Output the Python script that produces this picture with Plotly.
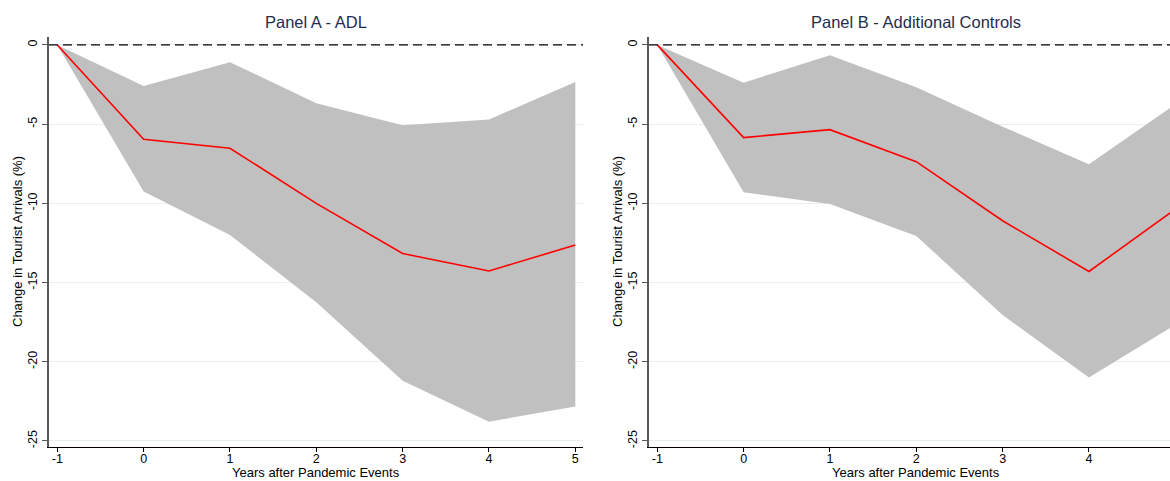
import plotly.graph_objects as go

years = [-1, 0, 1, 2, 3, 4, 5]

# Panel A - ADL
a_point = [0, -5.95, -6.52, -10.0, -13.17, -14.27, -12.63]
a_upper = [0, -2.59, -1.09, -3.68, -5.07, -4.70, -2.34]
a_lower = [0, -9.26, -12.0, -16.25, -21.2, -23.78, -22.83]

# Panel B - Additional Controls
b_point = [0, -5.85, -5.35, -7.37, -11.1, -14.3, -10.37]
b_upper = [0, -2.38, -0.65, -2.67, -5.16, -7.53, -3.75]
b_lower = [0, -9.3, -10.04, -12.06, -17.05, -21.0, -17.67]

y_ticks = [0, -5, -10, -15, -20, -25]
titles = ["Panel A - ADL", "Panel B - Additional Controls"]
x_title = "Years after Pandemic Events"
y_title = "Change in Tourist Arrivals (%)"

W, H = 1170, 481
FONT = "Liberation Sans, Arial, Helvetica, sans-serif"
BAND = "#c0c0c0"
RED = "#ff0000"
GRID = "#e6eff1"

fig = go.Figure()

panels = [
    (a_point, a_upper, a_lower, "x", "y"),
    (b_point, b_upper, b_lower, "x2", "y2"),
]
for pt, up, lo, xa, ya in panels:
    fig.add_trace(go.Scatter(x=years, y=lo, mode="lines", line=dict(width=0, color=BAND),
                             xaxis=xa, yaxis=ya, showlegend=False, hoverinfo="skip"))
    fig.add_trace(go.Scatter(x=years, y=up, mode="lines", line=dict(width=0, color=BAND),
                             fill="tonexty", fillcolor=BAND,
                             xaxis=xa, yaxis=ya, showlegend=False, hoverinfo="skip"))
    fig.add_trace(go.Scatter(x=years, y=pt, mode="lines", line=dict(width=1.6, color=RED),
                             xaxis=xa, yaxis=ya, showlegend=False))

y_bottom = (H - 447) / H
y_top = (H - 37) / H
domA = [49 / W, 583 / W]
domB = [649 / W, 1.0]

xcommon = dict(
    tickmode="array", tickvals=years, ticktext=[str(v) for v in years],
    ticks="outside", ticklen=4, tickwidth=1, tickcolor="#000",
    ticklabelstandoff=-4,
    showline=True, linecolor="#000", linewidth=1.2,
    showgrid=False, zeroline=False,
    tickfont=dict(family=FONT, size=12.5, color="#000"),
)
ycommon = dict(
    range=[-25.38, 0.5],
    tickmode="array", tickvals=y_ticks, ticktext=[str(v) for v in y_ticks],
    ticks="outside", ticklen=5, tickwidth=1, tickcolor="#555",
    showline=True, linecolor="#5a5a5a", linewidth=1.5,
    showgrid=True, gridcolor=GRID, gridwidth=1, zeroline=False,
    tickangle=-90,
    tickfont=dict(family=FONT, size=12.5, color="#000"),
    domain=[y_bottom, y_top],
)

fig.update_layout(
    width=W, height=H,
    margin=dict(l=0, r=0, t=0, b=0),
    paper_bgcolor="white", plot_bgcolor="white",
    xaxis=dict(xcommon, domain=domA, range=[-1.096, 5.089], anchor="y"),
    yaxis=dict(ycommon, anchor="x"),
    xaxis2=dict(xcommon, domain=domB, range=[-1.096, 4.939], anchor="y2"),
    yaxis2=dict(ycommon, anchor="x2"),
    font=dict(family=FONT),
)

# zero reference lines
for xr, yr in [("x domain", "y"), ("x2 domain", "y2")]:
    fig.add_shape(type="line", xref=xr, yref=yr, x0=0, x1=1, y0=0, y1=0,
                  line=dict(color="#000", width=1.1, dash="9px,5px"), layer="above")

# titles & axis titles
for xr, ttl, yx in [("x", titles[0], 18 / W), ("x2", titles[1], 618 / W)]:
    fig.add_annotation(text=ttl, xref=xr, x=2, yref="paper", y=(H - 22) / H,
                       showarrow=False, xanchor="center", yanchor="middle",
                       font=dict(family=FONT, size=16.5, color="#1f2d50"))
    fig.add_annotation(text=x_title, xref=xr, x=2, yref="paper", y=0,
                       showarrow=False, xanchor="center", yanchor="bottom",
                       borderpad=0,
                       font=dict(family=FONT, size=13, color="#000"))
    fig.add_annotation(text=y_title, xref="paper", x=yx, yref="paper",
                       y=(H - 242) / H, textangle=-90,
                       showarrow=False, xanchor="center", yanchor="middle",
                       font=dict(family=FONT, size=13, color="#000"))

fig.write_html("out.html")
